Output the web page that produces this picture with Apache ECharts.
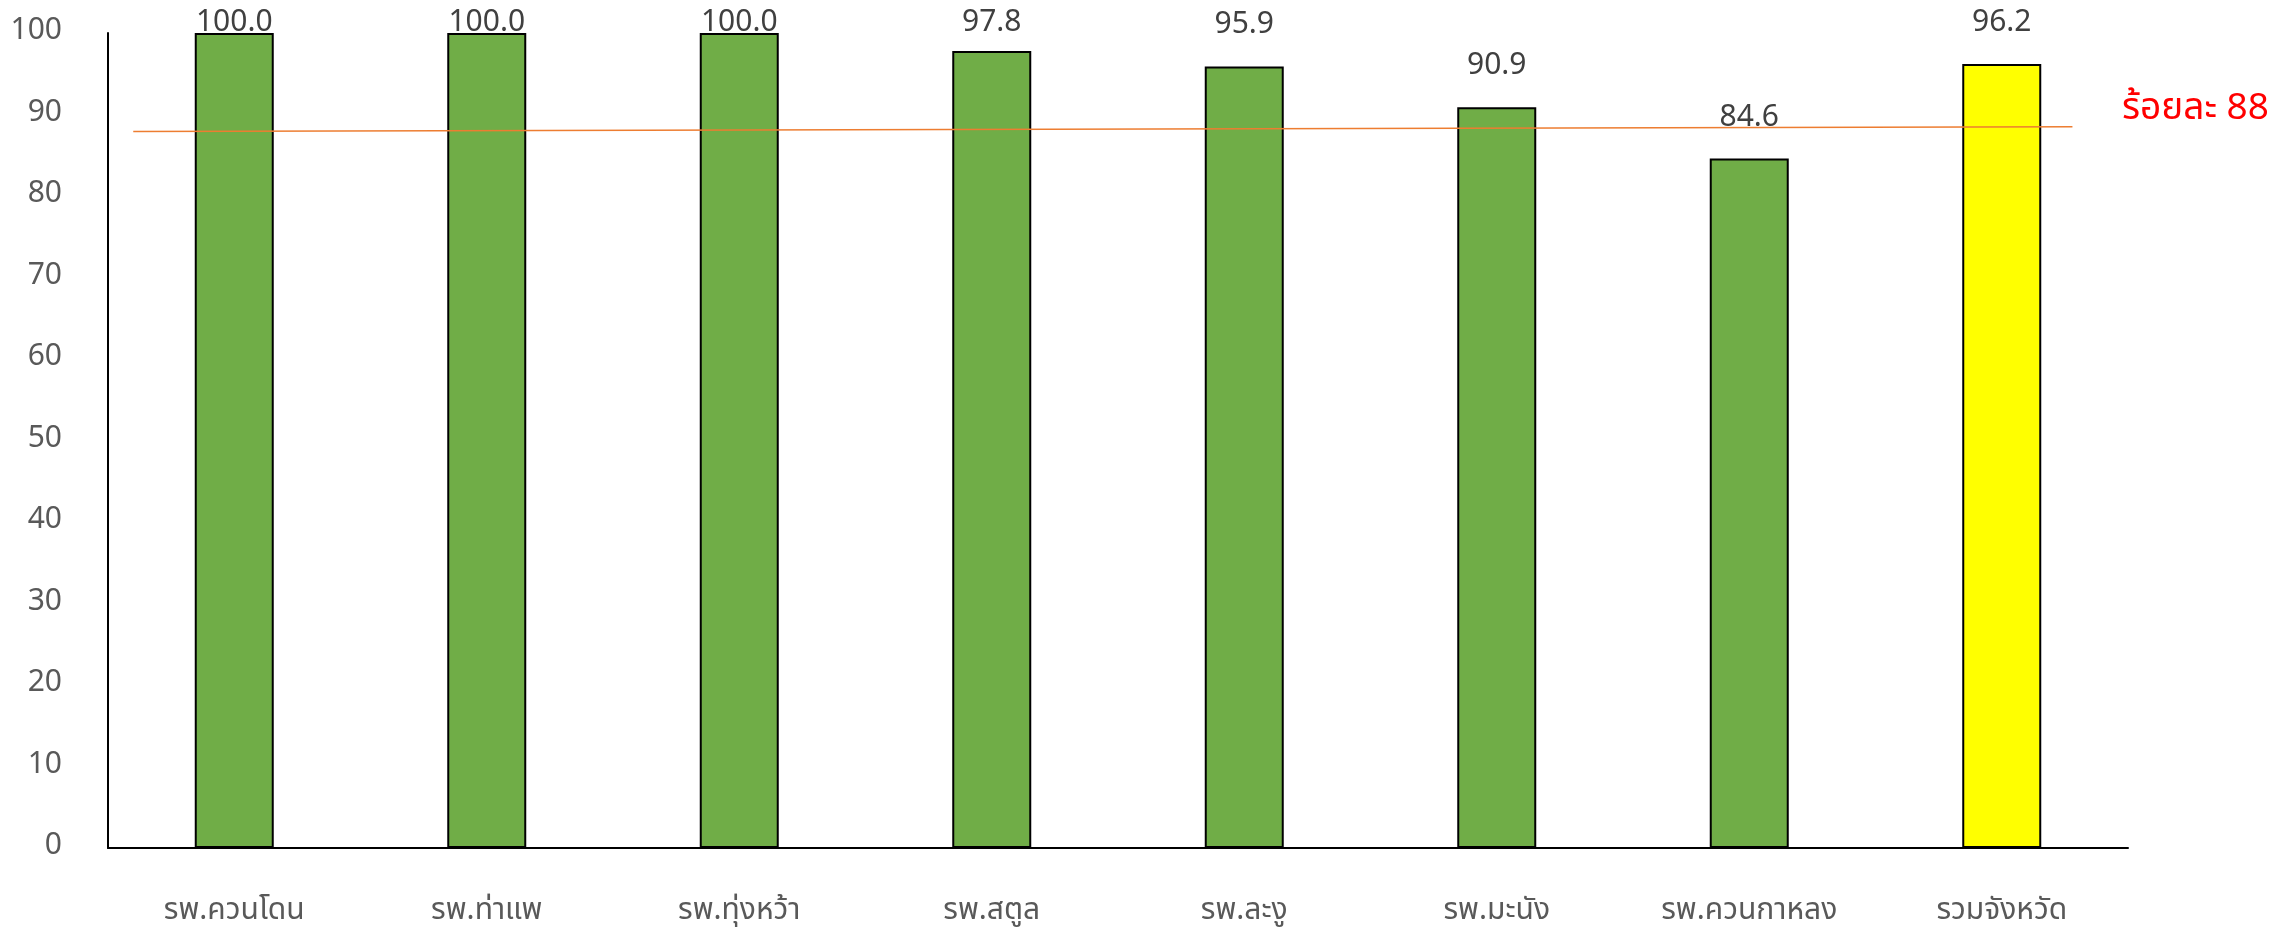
<!DOCTYPE html>
<html>
<head>
<meta charset="utf-8">
<script src="https://cdn.jsdelivr.net/npm/echarts@6/dist/echarts.min.js"></script>
<style>html,body{margin:0;padding:0;background:#fff;}#c{width:2280px;height:931px;}</style>
</head>
<body>
<div id="c"></div>
<script>
const categories = ['รพ.ควนโดน','รพ.ท่าแพ','รพ.ทุ่งหว้า','รพ.สตูล','รพ.ละงู','รพ.มะนัง','รพ.ควนกาหลง','รวมจังหวัด'];
const values = [100.0, 100.0, 100.0, 97.8, 95.9, 90.9, 84.6, 96.2];
const barColors = ['#70AD47','#70AD47','#70AD47','#70AD47','#70AD47','#70AD47','#70AD47','#FFFF00'];
const targetLineX = [0.1, 7.78];
const targetLineY = [87.9, 88.5];
const targetText = 'ร้อยละ 88';
const yTicks = [0,10,20,30,40,50,60,70,80,90,100];

const FONT = '"Noto Sans Thai","Noto Sans","Open Sans",sans-serif';
const chart = echarts.init(document.getElementById('c'));
chart.setOption({
  animation: false,
  grid: {left: 108, right: 152, top: 33, bottom: 83},
  xAxis: [{
    type: 'category', data: categories,
    axisLine: {lineStyle: {color: '#000', width: 2}},
    axisTick: {show: false},
    axisLabel: {color: '#595959', fontSize: 30, fontFamily: FONT, margin: 50}
  }, {
    type: 'value', min: 0, max: 8, show: false
  }],
  yAxis: {
    type: 'value', min: yTicks[0], max: yTicks[yTicks.length-1], interval: 10,
    axisLine: {show: true, lineStyle: {color: '#000', width: 2}},
    axisTick: {show: false},
    splitLine: {show: false},
    axisLabel: {color: '#595959', fontSize: 30, fontFamily: FONT, margin: 46}
  },
  series: [{
    type: 'bar', xAxisIndex: 0,
    data: values.map((v,i)=>({value: v, itemStyle: {color: barColors[i]}})),
    barWidth: 79,
    itemStyle: {borderColor: '#000', borderWidth: 2},
    label: {
      show: true, position: 'top', distance: 24,
      color: '#404040', fontSize: 30, fontFamily: FONT,
      formatter: p => p.value.toFixed(1)
    },
    labelLayout: function (params) {
      const r = params.labelRect;
      const cx = r.x + r.width / 2;
      const cy = r.y + r.height / 2;
      return {x: cx, y: Math.max(cy, 25), align: 'center', verticalAlign: 'middle'};
    },
    z: 2
  }, {
    type: 'line', xAxisIndex: 1,
    data: targetLineX.map((x,i)=>[x, targetLineY[i]]),
    symbol: 'none',
    lineStyle: {color: '#ED7D31', width: 1.5},
    z: 3
  }],
  graphic: [{
    type: 'text', x: 2122, y: 112,
    style: {text: targetText, fill: '#FF0000', fontSize: 37, fontFamily: FONT, align: 'left', verticalAlign: 'middle'}
  }]
});
</script>
</body>
</html>
